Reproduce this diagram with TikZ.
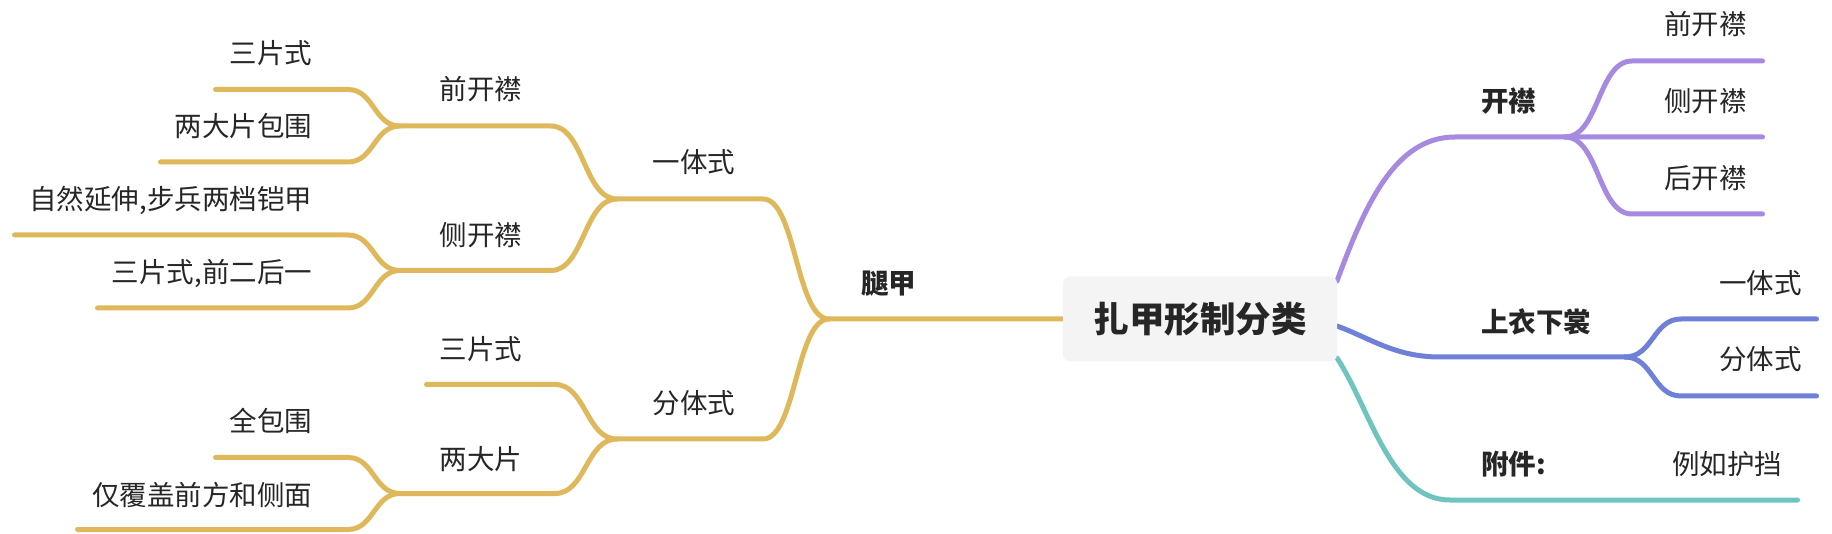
\documentclass[tikz,border=0pt]{standalone}
\usepackage{fontspec}
\setmainfont{Noto Sans CJK SC}
\usetikzlibrary{backgrounds}
\definecolor{gold}{HTML}{DEB85A}
\definecolor{lilac}{HTML}{A689E0}
\definecolor{indigo}{HTML}{6E80D8}
\definecolor{teal2}{HTML}{70C4C0}
\definecolor{rootfill}{HTML}{F4F4F4}
\definecolor{ink}{HTML}{262626}
\tikzset{
  txt/.style={inner sep=0pt, outer sep=0pt, text height=0.8em, text depth=0.1em,
    font=\fontsize{27.5}{30}\selectfont, text=ink},
  lvlone/.style={txt, font=\fontsize{27.5}{30}\selectfont\bfseries},
  lft/.style={anchor=east},
  rgt/.style={anchor=west},
  br/.style={line width=5pt, line cap=round, line join=round},
  rootbox/.style={fill=rootfill, rounded corners=7pt, inner sep=0pt, outer sep=0pt,
    minimum width=274pt, minimum height=85pt, text=ink,
    font=\fontsize{35.5}{40}\selectfont\bfseries},
}
\begin{document}
\begin{tikzpicture}[x=1pt,y=-1pt]
\useasboundingbox (0,0) rectangle (1832,534);
% root
\node[rootbox] (root) at (1200,319) {扎甲形制分类};

% ---- left side texts ----
\node[lvlone,lft] (tuijia) at (916,290) {腿甲};
\node[txt,lft] (yiti) at (735,169) {一体式};
\node[txt,lft] (fenti) at (735,410) {分体式};
\node[txt,lft] (qkj) at (522,96.5) {前开襟};
\node[txt,lft] (ckj) at (522,242) {侧开襟};
\node[txt,lft] (spsb) at (522,356) {三片式};
\node[txt,lft] (ldp) at (522,465.5) {两大片};
\node[txt,lft] (sps) at (312,60) {三片式};
\node[txt,lft] (ldpbw) at (312,133.5) {两大片包围};
\node[txt,lft] (zryc) at (312,206.5) {自然延伸,步兵两档铠甲};
\node[txt,lft] (spsq) at (312,279) {三片式,前二后一};
\node[txt,lft] (qbw) at (312,428.5) {全包围};
\node[txt,lft] (jfg) at (312,501.5) {仅覆盖前方和侧面};

% ---- right side texts ----
\node[lvlone,rgt] (kj) at (1481,108.5) {开襟};
\node[txt,rgt] (rqkj) at (1664,31.5) {前开襟};
\node[txt,rgt] (rckj) at (1664,108) {侧开襟};
\node[txt,rgt] (rhkj) at (1664,185) {后开襟};
\node[lvlone,rgt] (syxc) at (1481,329.5) {上衣下裳};
\node[txt,rgt] (ryt) at (1719,290.5) {一体式};
\node[txt,rgt] (rft) at (1719,366.5) {分体式};
\node[lvlone,rgt] (fj) at (1481,471.5) {附件:};
\node[txt,rgt] (lrhd) at (1672,471) {例如护挡};

% ---- junction coordinates ----
\coordinate (a1s) at (215.5,89.5);  \coordinate (a1e) at (348,89.5);
\coordinate (a2s) at (160.5,162);   \coordinate (a2e) at (348,162);
\coordinate (a3s) at (14.5,235);    \coordinate (a3e) at (348,235);
\coordinate (a4s) at (97.5,308);    \coordinate (a4e) at (348,308);
\coordinate (a5s) at (215.5,457.5); \coordinate (a5e) at (348,457.5);
\coordinate (a6s) at (77.5,529.5);  \coordinate (a6e) at (348,529.5);
\coordinate (b1s) at (426.5,384.5); \coordinate (b1e) at (555,384.5);
\coordinate (j1) at (400,126);   \coordinate (j1e) at (551,126);
\coordinate (j3) at (400,270.5); \coordinate (j3e) at (551,270.5);
\coordinate (j6) at (400,493.5); \coordinate (j6e) at (555,493.5);
\coordinate (j2) at (617,199);   \coordinate (j2e) at (763,199);
\coordinate (j5) at (617,439);   \coordinate (j5e) at (763,439);
\coordinate (j4) at (829,319);
\coordinate (r1) at (1337,281);
\coordinate (r2) at (1337,326);
\coordinate (r3) at (1337,358);
\coordinate (p0) at (1455,137);  \coordinate (j7) at (1565,137);
\coordinate (pc1) at (1632,61);  \coordinate (pe1) at (1762.5,61);
\coordinate (pe2) at (1762.5,137);
\coordinate (pc3) at (1632,214); \coordinate (pe3) at (1762.5,214);
\coordinate (q0) at (1440,357);  \coordinate (j8) at (1625,357);
\coordinate (qc1) at (1681,319); \coordinate (qe1) at (1816.5,319);
\coordinate (qc2) at (1681,396); \coordinate (qe2) at (1816.5,396);
\coordinate (t0) at (1450,500);  \coordinate (te) at (1797.5,500);

\begin{scope}[on background layer]
% gold (left)
\draw[br,gold] (a1s) -- (a1e) .. controls +(26,0) and +(-26,0) .. (j1) -- (j1e)
  .. controls +(33,0) and +(-33,0) .. (j2) -- (j2e)
  .. controls +(33,0) and +(-33,0) .. (j4) -- (root.west);
\draw[br,gold] (a2s) -- (a2e) .. controls +(26,0) and +(-26,0) .. (j1);
\draw[br,gold] (a3s) -- (a3e) .. controls +(26,0) and +(-26,0) .. (j3) -- (j3e)
  .. controls +(33,0) and +(-33,0) .. (j2);
\draw[br,gold] (a4s) -- (a4e) .. controls +(26,0) and +(-26,0) .. (j3);
\draw[br,gold] (b1s) -- (b1e) .. controls +(31,0) and +(-31,0) .. (j5) -- (j5e)
  .. controls +(33,0) and +(-33,0) .. (j4);
\draw[br,gold] (a5s) -- (a5e) .. controls +(26,0) and +(-26,0) .. (j6) -- (j6e)
  .. controls +(31,0) and +(-31,0) .. (j5);
\draw[br,gold] (a6s) -- (a6e) .. controls +(26,0) and +(-26,0) .. (j6);
% purple
\draw[br,lilac] (r1) .. controls +(28,-76) and +(-60,0) .. (p0) -- (j7) -- (pe2);
\draw[br,lilac] (j7) .. controls +(34,0) and +(-34,0) .. (pc1) -- (pe1);
\draw[br,lilac] (j7) .. controls +(34,0) and +(-34,0) .. (pc3) -- (pe3);
% blue
\draw[br,indigo] (r2) .. controls +(33,12) and +(-45,0) .. (q0) -- (j8);
\draw[br,indigo] (j8) .. controls +(28,0) and +(-28,0) .. (qc1) -- (qe1);
\draw[br,indigo] (j8) .. controls +(28,0) and +(-28,0) .. (qc2) -- (qe2);
% teal
\draw[br,teal2] (r3) .. controls +(33,50) and +(-60,0) .. (t0) -- (te);
\end{scope}
\end{tikzpicture}
\end{document}
